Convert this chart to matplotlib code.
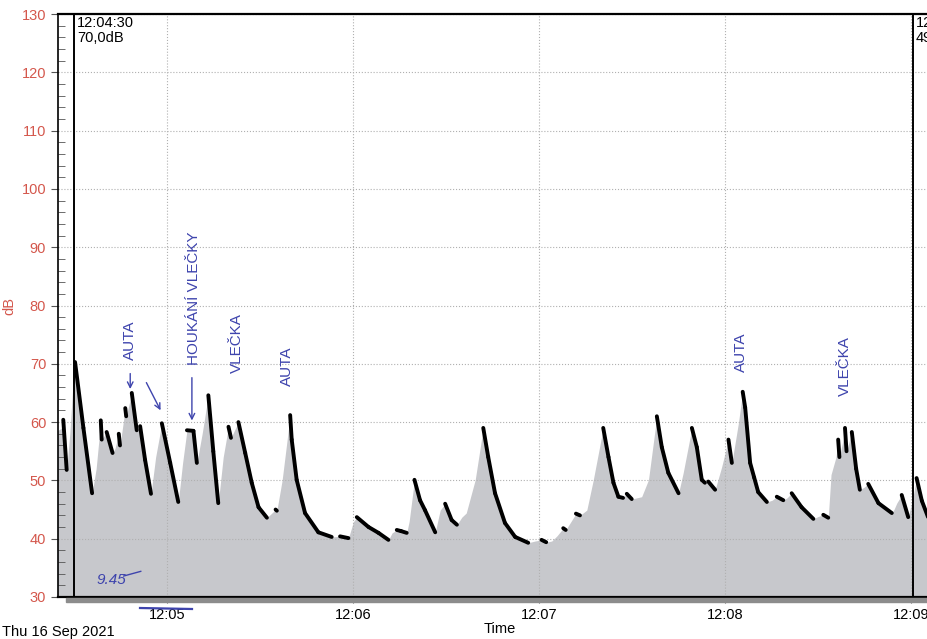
import numpy as np
import matplotlib
matplotlib.use("Agg")
import matplotlib.pyplot as plt
from matplotlib.collections import LineCollection
from matplotlib.patches import Rectangle
from matplotlib.lines import Line2D

# cas v sekundach od 12:04:00, hladina v dB
t_sec = [24.5, 26.1, 26.5, 27.6, 28.6, 29.8, 30.3, 33.0, 35.8, 37.1, 38.6, 38.9, 40.5, 42.4,
         43.2, 44.4, 44.8, 46.5, 46.8, 48.6, 50.2, 51.3, 52.9, 54.8, 56.3, 58.3, 61.0, 63.6,
         65.0, 66.4, 68.5, 69.6, 71.3, 73.3, 74.9, 76.5, 78.1, 79.8, 80.6, 83.0, 85.2, 87.3,
         89.5, 92.2, 95.0, 95.4, 97.1, 99.7, 100.2, 101.8, 104.5, 108.8, 113.1, 115.8, 118.5,
         120.1, 121.2, 125.0, 128.2, 131.4, 132.6, 134.1, 135.5, 137.3, 138.1, 139.8, 141.6,
         143.2, 146.5, 148.1, 149.7, 151.8, 153.5, 155.1, 156.5, 159.4, 162.0, 163.6, 165.8,
         169.0, 172.3, 176.5, 178.7, 180.8, 182.3, 184.1, 185.8, 187.8, 188.6, 191.9, 193.2,
         195.4, 197.5, 200.7, 202.4, 204.0, 205.6, 207.1, 208.3, 209.9, 213.1, 215.3, 218.0,
         219.6, 221.7, 225.0, 226.5, 229.3, 230.9, 232.5, 233.5, 234.6, 236.8, 238.9, 241.1,
         242.2, 244.3, 245.7, 246.5, 248.1, 249.4, 250.7, 253.5, 255.2, 256.7, 258.8, 260.0,
         261.5, 264.7, 268.5, 270.0, 271.7, 273.3, 274.2, 275.8, 276.5, 276.9, 278.1, 278.7,
         279.2, 280.9, 282.3, 283.5, 284.8, 286.2, 289.5, 293.8, 294.5, 295.4, 297.0, 299.1,
         300.6, 301.8, 303.5, 305.5, 307.7, 310.5]
level_db = [58.5, 59.0, 60.4, 51.8, 58.0, 68.0, 70.3, 59.0, 47.8, 52.0, 60.3, 57.0, 58.3, 54.7,
            55.5, 58.0, 56.0, 62.4, 61.0, 65.0, 58.6, 59.3, 53.5, 47.7, 54.0, 59.8, 53.0, 46.3,
            53.0, 58.6, 58.5, 53.0, 58.0, 64.6, 55.0, 46.1, 54.0, 59.2, 57.3, 60.0, 54.7, 49.6,
            45.4, 43.6, 45.0, 44.8, 50.0, 61.2, 57.0, 50.1, 44.4, 41.1, 40.3, 40.4, 40.1,
            42.9, 43.7, 42.0, 41.0, 39.8, 41.0, 41.5, 41.3, 41.0, 43.0, 50.1, 46.6,
            44.9, 41.1, 44.9, 46.0, 43.2, 42.4, 43.7, 44.4, 50.1, 59.0, 54.0, 47.8,
            42.7, 40.3, 39.3, 39.6, 39.8, 39.4, 39.6, 40.5, 41.8, 41.5, 44.3, 44.0,
            44.9, 50.1, 59.0, 54.0, 49.6, 47.2, 47.0, 47.7, 46.8, 47.2, 50.1, 61.0,
            55.7, 51.3, 47.8, 51.3, 59.0, 55.7, 50.1, 49.6, 49.8, 48.4, 52.3, 57.0,
            53.0, 59.8, 65.2, 62.5, 53.0, 50.5, 48.0, 46.3, 46.6, 47.2, 46.6, 47.0,
            47.8, 45.4, 43.4, 43.8, 44.1, 43.6, 51.0, 54.0, 57.0, 54.0, 57.0, 59.0,
            55.0, 58.3, 52.0, 48.4, 48.8, 49.4, 46.1, 44.4, 45.0, 46.1, 47.5, 43.7,
            47.0, 50.4, 46.5, 43.7, 42.8, 42.0]

minute_ticks = [60, 120, 180, 240, 300]
minute_labels = ["12:05", "12:06", "12:07", "12:08", "12:09"]

cursor_t = [30.0, 300.6]
cursor_text = ["12:04:30\n70,0dB", "12:09:01\n49,6dB"]

# rucni poznamky
note_text = ["AUTA", "HOUKÁNÍ VLEČKY", "VLEČKA", "AUTA", "AUTA", "VLEČKA"]
note_t = [48.1, 68.7, 82.6, 98.7, 245.2, 278.7]
note_db = [74.1, 81.3, 73.6, 69.6, 71.9, 69.6]

t = np.array(t_sec)
v = np.array(level_db)
pen = "#3e44ad"
red = "#d4574c"

plt.rcParams["font.family"] = ["Liberation Sans", "DejaVu Sans"]
fig = plt.figure(figsize=(9.28, 6.39), dpi=100)
ax = fig.add_axes([58 / 928, 1 - 597 / 639, 884 / 928, 583 / 639])

ax.fill_between(t, 30, v, color="#c7c8cc", lw=0, zorder=1)

# cerna cara jen na klesajicich usecich
segs = [[(t[i], v[i]), (t[i + 1], v[i + 1])] for i in range(len(t) - 1) if v[i + 1] < v[i]]
ax.add_collection(LineCollection(segs, colors="black", linewidths=2.8,
                                 capstyle="round", joinstyle="round", zorder=3))

for ct, txt in zip(cursor_t, cursor_text):
    ax.axvline(ct, color="black", lw=1.4, zorder=4)
    ax.text(ct + 1.0, 129.6, txt, fontsize=10.5, va="top", ha="left",
            linespacing=1.05, zorder=5)

ax.set_xlim(24.8, 310)
ax.set_ylim(30, 130)
ax.set_yticks(np.arange(30, 131, 10))
ax.set_yticks(np.arange(30, 131, 2), minor=True)
ax.set_xticks(minute_ticks)
ax.set_xticklabels(minute_labels)
ax.tick_params(axis="y", which="major", direction="out", length=5,
               labelcolor=red, labelsize=10.5, color="#555555")
ax.tick_params(axis="y", which="minor", direction="in", length=5, color="#555555")
ax.tick_params(axis="x", direction="out", length=4, labelsize=10.5, pad=4, color="#555555")
ax.grid(True, which="major", color="#b0b0b0", ls=":", lw=0.8, zorder=0)

for s in ["top", "bottom"]:
    ax.spines[s].set_linewidth(1.6)
ax.spines["left"].set_linewidth(1.2)
ax.spines["right"].set_visible(False)

ax.set_ylabel("dB", color=red, fontsize=10.5)
ax.yaxis.set_label_coords(-0.047, 0.5)
ax.set_xlabel("Time", fontsize=10.5, labelpad=0)
fig.text(2 / 928, 1 - 632 / 639, "Thu 16 Sep 2021", fontsize=10.5, va="center")

# stin pod spodni osou
fig.patches.append(Rectangle((66 / 928, 1 - 602 / 639), 870 / 928, 4.5 / 639,
                             transform=fig.transFigure, color="#8c8c8c", zorder=0))

# rucni poznamky modre
hand = dict(color=pen, rotation=90, ha="center", va="center", fontsize=11, zorder=6)
for txt, nt, nd in zip(note_text, note_t, note_db):
    ax.text(nt, nd, txt, **hand)
arrow = dict(arrowstyle="->", color=pen, lw=1.0)
ax.annotate("", xy=(48.1, 65.2), xytext=(48.1, 68.8), arrowprops=arrow, zorder=6)
ax.annotate("", xy=(58.3, 61.6), xytext=(52.9, 67.2), arrowprops=arrow, zorder=6)
ax.annotate("", xy=(68.0, 59.8), xytext=(68.0, 68.1), arrowprops=arrow, zorder=6)
ax.text(41.9, 33.0, "9.45", color=pen, fontsize=11, ha="center", va="center",
        fontstyle="italic", zorder=6)
ax.plot([46.0, 51.5], [33.6, 34.4], color=pen, lw=1.0, zorder=6)
fig.lines.append(Line2D([140 / 928, 192 / 928], [1 - 608 / 639, 1 - 609 / 639],
                        transform=fig.transFigure, color=pen, lw=1.6))

fig.savefig("out.png", dpi=100)
